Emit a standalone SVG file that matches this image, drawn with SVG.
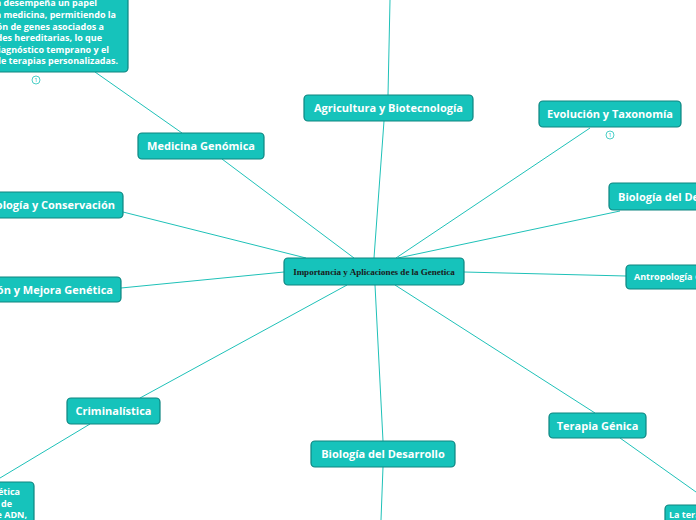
<svg xmlns="http://www.w3.org/2000/svg" width="696" height="520" viewBox="0 0 696 520">
<style>
.n{fill:#16c3bb;stroke:#0e8580;stroke-width:1.2}
.t{font-family:"Open Sans","Liberation Sans",sans-serif;font-weight:bold;font-size:11px;fill:#ffffff}
.s{font-family:"Open Sans","Liberation Sans",sans-serif;font-weight:bold;font-size:9px;fill:#ffffff}
.c{stroke:#1fc1b8;stroke-width:1;fill:none}
.ind{fill:#ffffff;stroke:#1fc1b8;stroke-width:0.8}
.indt{font-family:"Open Sans","Liberation Sans",sans-serif;font-size:6px;fill:#1fc1b8}
</style>
<rect width="696" height="520" fill="#ffffff"/>
<g id="connectors">
<line class="c" x1="388" y1="95" x2="390" y2="0"/>
<line class="c" x1="384" y1="121" x2="374" y2="258"/>
<line class="c" x1="590" y1="128" x2="396" y2="258"/>
<line class="c" x1="620" y1="211" x2="398" y2="258"/>
<line class="c" x1="626" y1="276" x2="464" y2="272"/>
<line class="c" x1="595" y1="413" x2="395" y2="285"/>
<line class="c" x1="620" y1="438" x2="696" y2="492"/>
<line class="c" x1="383" y1="441" x2="375" y2="285"/>
<line class="c" x1="383" y1="467" x2="381" y2="520"/>
<line class="c" x1="140" y1="398" x2="347" y2="285"/>
<line class="c" x1="90" y1="424" x2="0" y2="478"/>
<line class="c" x1="121" y1="288" x2="284" y2="272"/>
<line class="c" x1="123" y1="212" x2="306" y2="258"/>
<line class="c" x1="222" y1="159" x2="354" y2="258"/>
<line class="c" x1="182" y1="133" x2="95" y2="72"/>
</g>
<g id="center">
<rect class="n" x="284" y="258" width="180" height="27" rx="4"/>
<text x="374" y="275" text-anchor="middle" font-family="Liberation Serif,serif" font-weight="bold" font-size="9" fill="#1a1a1a">Importancia y Aplicaciones de la Genetica</text>
</g>
<g id="medicina-texto">
<rect class="n" x="-100" y="-20" width="228" height="92" rx="4"/>
<text class="s" text-anchor="end"><tspan x="97" y="6">La genética desempeña un papel</tspan><tspan x="116" y="18">crucial en la medicina, permitiendo la</tspan><tspan x="104" y="29.5">identificación de genes asociados a</tspan><tspan x="102" y="41">enfermedades hereditarias, lo que</tspan><tspan x="109" y="52.5">facilita el diagnóstico temprano y el</tspan><tspan x="118" y="64">desarrollo de terapias personalizadas.</tspan></text>
<circle class="ind" cx="36" cy="80" r="4"/>
<text class="indt" x="36" y="82" text-anchor="middle">1</text>
</g>
<g id="medicina">
<rect class="n" x="138" y="133" width="126" height="26" rx="4"/>
<text class="t" x="201" y="150" text-anchor="middle">Medicina Genómica</text>
</g>
<g id="agricultura">
<rect class="n" x="304" y="95" width="169" height="26" rx="4"/>
<text class="t" x="388.5" y="112" text-anchor="middle">Agricultura y Biotecnología</text>
</g>
<g id="evolucion">
<rect class="n" x="539" y="101" width="142" height="26" rx="4"/>
<text class="t" x="610" y="118" text-anchor="middle">Evolución y Taxonomía</text>
<circle class="ind" cx="610" cy="135" r="4"/>
<text class="indt" x="610" y="137" text-anchor="middle">1</text>
</g>
<g id="biologia-d">
<rect class="n" x="609" y="183" width="140" height="27" rx="4"/>
<text class="t" x="618" y="201">Biología del Desarrollo</text>
</g>
<g id="antropologia">
<rect class="n" x="626" y="265" width="120" height="24" rx="4"/>
<text class="s" x="634" y="280">Antropología Genética</text>
</g>
<g id="terapia">
<rect class="n" x="549" y="413" width="97" height="25" rx="4"/>
<text class="t" x="597.5" y="429.5" text-anchor="middle">Terapia Génica</text>
</g>
<g id="terapia-texto">
<rect class="n" x="665" y="505" width="150" height="40" rx="4"/>
<text class="s" x="669" y="518">La terapia génica</text>
</g>
<g id="desarrollo">
<rect class="n" x="311" y="441" width="144" height="26" rx="4"/>
<text class="t" x="383" y="458" text-anchor="middle">Biología del Desarrollo</text>
</g>
<g id="criminalistica">
<rect class="n" x="67" y="398" width="93" height="26" rx="4"/>
<text class="t" x="113.5" y="415" text-anchor="middle">Criminalística</text>
</g>
<g id="criminalistica-texto">
<rect class="n" x="-100" y="482" width="134" height="60" rx="4"/>
<text class="s" text-anchor="end"><tspan x="20" y="495">La genética</tspan><tspan x="12" y="506.5">forense permite la identificación de</tspan><tspan x="27" y="518">perfiles de ADN,</tspan></text>
</g>
<g id="mejora">
<rect class="n" x="-60" y="277" width="181" height="25" rx="4"/>
<text class="t" x="113" y="294" text-anchor="end">Selección y Mejora Genética</text>
</g>
<g id="conservacion">
<rect class="n" x="-60" y="192" width="183" height="26" rx="4"/>
<text class="t" x="115" y="209" text-anchor="end">Ecología y Conservación</text>
</g>
</svg>
